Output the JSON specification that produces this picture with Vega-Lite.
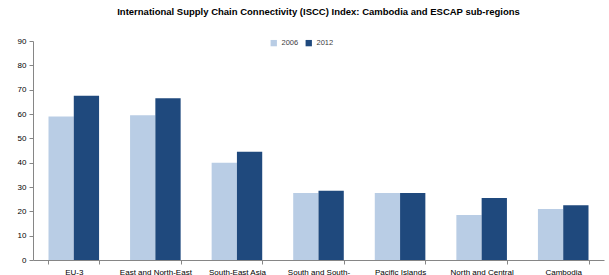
{
  "$schema": "https://vega.github.io/schema/vega-lite/v6.json",
  "width": 571,
  "height": 219,
  "autosize": {"type": "none"},
  "padding": {"left": 33, "top": 41, "right": 5, "bottom": 15},
  "background": "white",
  "title": {
    "text": "International Supply Chain Connectivity (ISCC) Index: Cambodia and ESCAP sub-regions",
    "font": "Liberation Sans",
    "fontSize": 9.5,
    "fontWeight": "bold",
    "color": "#000000",
    "anchor": "middle",
    "offset": 21
  },
  "data": {
    "values": [
      {"region": "EU-3", "year": "2006", "value": 59},
      {"region": "EU-3", "year": "2012", "value": 67.5},
      {"region": "East and North-East Asia", "year": "2006", "value": 59.5},
      {"region": "East and North-East Asia", "year": "2012", "value": 66.5},
      {"region": "South-East Asia", "year": "2006", "value": 40},
      {"region": "South-East Asia", "year": "2012", "value": 44.5},
      {"region": "South and South-West Asia", "year": "2006", "value": 27.5},
      {"region": "South and South-West Asia", "year": "2012", "value": 28.5},
      {"region": "Pacific Islands", "year": "2006", "value": 27.5},
      {"region": "Pacific Islands", "year": "2012", "value": 27.5},
      {"region": "North and Central Asia", "year": "2006", "value": 18.5},
      {"region": "North and Central Asia", "year": "2012", "value": 25.5},
      {"region": "Cambodia", "year": "2006", "value": 21},
      {"region": "Cambodia", "year": "2012", "value": 22.5}
    ]
  },
  "mark": {"type": "bar"},
  "encoding": {
    "x": {
      "field": "region",
      "type": "nominal",
      "sort": null,
      "scale": {"paddingInner": 0.38, "paddingOuter": 0.19},
      "axis": {
        "title": null,
        "labelAngle": 0,
        "tickBand": "extent",
        "domainColor": "#868686",
        "tickColor": "#868686",
        "tickSize": 4,
        "labelFont": "Liberation Sans",
        "labelFontSize": 8,
        "labelColor": "#000000",
        "labelPadding": 4,
        "labelExpr": "datum.value == 'East and North-East Asia' ? 'East and North-East' : datum.value == 'South and South-West Asia' ? 'South and South-' : datum.value == 'North and Central Asia' ? 'North and Central' : datum.value"
      }
    },
    "xOffset": {"field": "year", "type": "nominal"},
    "y": {
      "field": "value",
      "type": "quantitative",
      "scale": {"domain": [0, 90]},
      "axis": {
        "title": null,
        "grid": false,
        "values": [0, 10, 20, 30, 40, 50, 60, 70, 80, 90],
        "domainColor": "#868686",
        "tickColor": "#868686",
        "tickSize": 4,
        "labelFont": "Liberation Sans",
        "labelFontSize": 8,
        "labelColor": "#000000",
        "labelPadding": 3
      }
    },
    "color": {
      "field": "year",
      "type": "nominal",
      "scale": {"domain": ["2006", "2012"], "range": ["#b9cde5", "#1f497d"]},
      "legend": {
        "title": null,
        "orient": "none",
        "legendX": 237,
        "legendY": -2,
        "direction": "horizontal",
        "symbolType": "square",
        "symbolSize": 40,
        "symbolStrokeWidth": 0,
        "labelFont": "Liberation Sans",
        "labelFontSize": 7.5,
        "labelColor": "#404040",
        "columnPadding": 6
      }
    }
  },
  "config": {"view": {"stroke": null}}
}
